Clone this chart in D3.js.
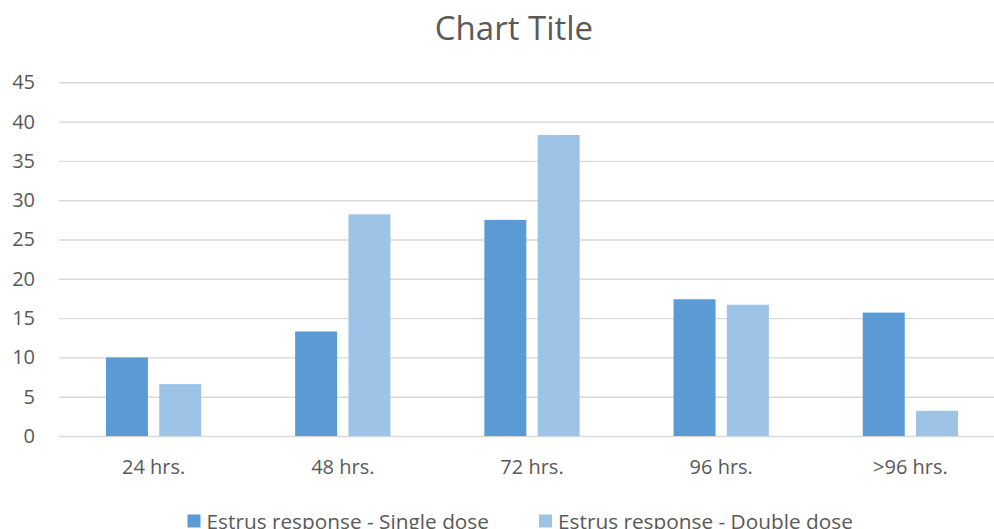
<!DOCTYPE html>
<html>
<head>
<meta charset="utf-8">
<script src="https://cdn.jsdelivr.net/npm/d3@7"></script>
<style>
  html, body { margin: 0; padding: 0; background: #fff; }
  svg { display: block; }
  svg text { font-family: "Open Sans", "Noto Sans", sans-serif; fill: #595959; }
</style>
</head>
<body>
<svg id="chart" width="994" height="529"></svg>
<script>
// Estrus response by hours after treatment
const categories = ["24 hrs.", "48 hrs.", "72 hrs.", "96 hrs.", ">96 hrs."];
const seriesNames = ["Estrus response - Single dose", "Estrus response - Double dose"];
const singleDose = [10, 13.3, 27.5, 17.4, 15.7];
const doubleDose = [6.6, 28.2, 38.3, 16.7, 3.2];
const yTicks = [0, 5, 10, 15, 20, 25, 30, 35, 40, 45];
const colors = ["#5B9BD5", "#9DC3E6"];

const svg = d3.select("#chart");
const plot = { left: 59, right: 1005, top: 82.3, bottom: 436 };

const x0 = d3.scaleBand().domain(categories).range([plot.left, plot.right]).padding(0);
const inner = 95.3;
const x1 = d3.scaleBand().domain(seriesNames)
  .range([(x0.bandwidth() - inner) / 2, (x0.bandwidth() + inner) / 2])
  .paddingInner(0.212);
const y = d3.scaleLinear().domain([0, 45]).range([plot.bottom, plot.top]);

// Title
svg.append("text")
  .attr("x", 514).attr("y", 39.5)
  .attr("text-anchor", "middle")
  .style("font-size", "33px")
  .text("Chart Title");

// Value axis with gridlines
const yAxis = d3.axisLeft(y).tickValues(yTicks).tickSize(-(plot.right - plot.left)).tickPadding(24);
const gy = svg.append("g").attr("transform", `translate(${plot.left},0)`).call(yAxis)
  .attr("font-family", null).attr("font-size", null);
gy.select(".domain").remove();
gy.selectAll(".tick line").attr("stroke", "#D9D9D9").attr("stroke-width", 1.4);
gy.selectAll(".tick text").attr("fill", null).style("font-size", "20px");

// Bars
const series = [singleDose, doubleDose];
const groups = svg.append("g").selectAll("g")
  .data(categories)
  .join("g")
  .attr("transform", d => `translate(${x0(d)},0)`);

groups.selectAll("rect")
  .data((c, i) => seriesNames.map((s, k) => ({ s, k, v: series[k][i] })))
  .join("rect")
  .attr("x", d => x1(d.s))
  .attr("width", x1.bandwidth())
  .attr("y", d => y(d.v))
  .attr("height", d => y(0) - y(d.v))
  .attr("fill", d => colors[d.k]);

// Category axis
const xAxis = d3.axisBottom(x0).tickSize(0).tickPadding(0);
const gx = svg.append("g").attr("transform", `translate(0,${plot.bottom})`).call(xAxis)
  .attr("font-family", null).attr("font-size", null);
gx.select(".domain").remove();
gx.selectAll(".tick text").attr("fill", null).attr("dy", null).attr("y", 38).style("font-size", "20px");

// Legend
const legend = svg.append("g");
const legendItems = [
  { name: seriesNames[0], x: 187.5, color: colors[0] },
  { name: seriesNames[1], x: 539, color: colors[1] }
];
legendItems.forEach(it => {
  legend.append("rect").attr("x", it.x).attr("y", 514.5).attr("width", 13).attr("height", 13).attr("fill", it.color);
  legend.append("text").attr("x", it.x + 19).attr("y", 528.5)
    .style("font-size", "20.8px").text(it.name);
});
</script>
</body>
</html>
